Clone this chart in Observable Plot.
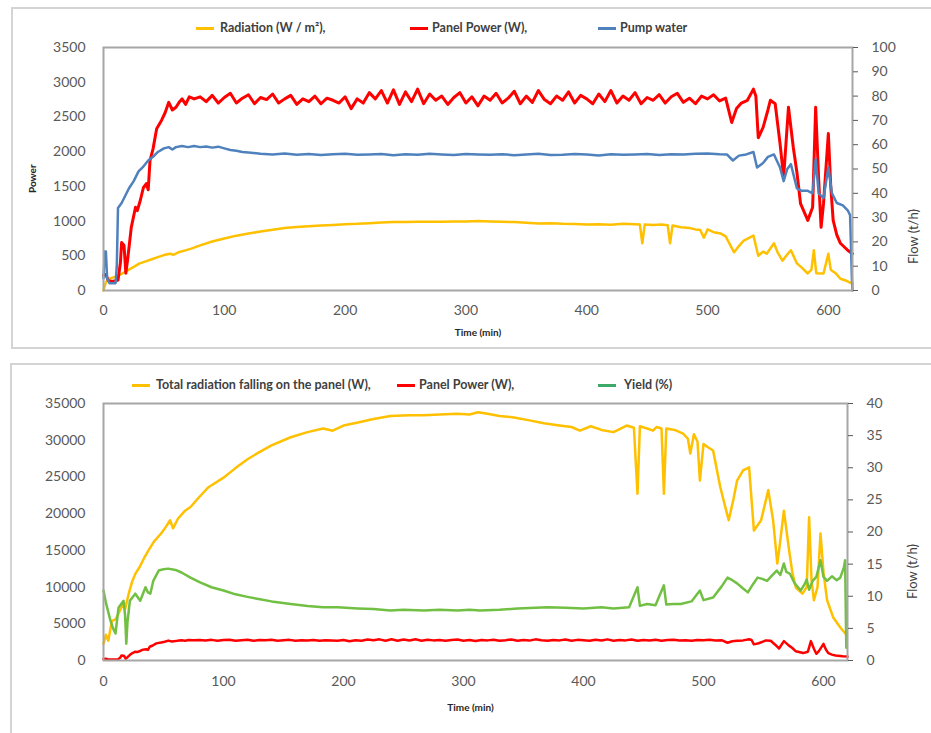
<!DOCTYPE html>
<html>
<head>
<meta charset="utf-8">
<script src="https://cdn.jsdelivr.net/npm/d3@7"></script>
<script src="https://cdn.jsdelivr.net/npm/@observablehq/plot@0.6"></script>
<style>
  html, body { margin: 0; padding: 0; background: #fff; }
  #page { position: relative; width: 931px; height: 733px; overflow: hidden; font-family: Lato, "Open Sans", sans-serif; }
  .panel { position: absolute; border: 2px solid #d4d4d4; box-sizing: border-box; }
  .chart { position: absolute; left: 0; }
  .leg { position: absolute; font-weight: bold; font-size: 12.5px; color: #404040; white-space: nowrap; line-height: 14px; }
  .sw { position: absolute; width: 18px; height: 3px; }
</style>
</head>
<body>
<div id="page">
  <div class="panel" style="left:11px; top:7px; width:940px; height:342px;"></div>
  <div class="panel" style="left:10px; top:363px; width:940px; height:400px;"></div>
  <div id="topChart" class="chart" style="top:0px;"></div>
  <div id="bottomChart" class="chart" style="top:350px;"></div>
  <div id="legTop"></div>
  <div id="legBottom"></div>
</div>
<script>
// ---------- Top panel data ----------
// Radiation (W/m²) — [time (min), value]
const radiation = [
  [0,0],[2,120],[5,170],[10,200],[15,240],[20,290],[25,340],[30,390],[35,420],[40,450],[45,480],[50,510],[55,530],[58,515],
  [62,550],[67,575],[72,600],[80,650],[90,705],[100,750],[110,790],[120,820],[130,850],[140,875],[150,900],[160,915],
  [170,925],[180,935],[190,945],[200,955],[210,960],[220,970],[230,978],[240,985],[250,988],[260,990],[270,992],[280,990],
  [290,993],[300,995],[310,1000],[320,995],[330,990],[340,985],[350,975],[360,965],[370,968],[380,960],[390,958],[400,950],
  [410,955],[420,948],[430,960],[440,955],[444,950],[446,680],[448,950],[455,945],[462,950],[467,940],[469,680],[471,935],
  [478,910],[485,900],[490,880],[494,870],[497,760],[500,880],[505,840],[511,820],[515,780],[522,550],[526,640],[530,720],
  [538,790],[542,500],[546,560],[549,530],[555,680],[558,550],[562,430],[566,520],[569,580],[574,390],[578,330],[583,245],
  [586,300],[588,580],[590,250],[596,245],[600,530],[602,300],[606,250],[610,170],[615,140],[618,115],[620,100]
];
// Panel Power (W)
const panelPower = [
  [0,220],[2,230],[4,140],[7,130],[10,140],[12,150],[14,400],[15,690],[17,650],[18.5,250],[20,450],[23,910],[26.5,1200],
  [28,1150],[30.5,1300],[33,1480],[35.5,1540],[37,1450],[38.5,1870],[41,2040],[44,2330],[48,2450],[51,2560],[54,2710],
  [57,2600],[60,2640],[63,2720],[65,2760],[68,2680],[71,2790],[75,2760],
  [80,2790],[85,2720],[90,2810],[95,2700],[100,2780],[105,2840],[110,2700],[115,2770],[120,2820],[125,2690],
  [130,2780],[135,2750],[140,2830],[145,2700],[150,2760],[155,2810],[160,2680],[165,2760],[170,2720],[175,2800],
  [180,2690],[185,2770],[190,2740],[195,2700],[200,2790],[205,2620],[210,2760],[215,2700],[220,2850],[225,2760],
  [230,2880],[235,2700],[240,2890],[245,2680],[250,2860],[255,2720],[260,2900],[265,2690],[270,2830],[275,2740],
  [280,2800],[285,2680],[290,2780],[295,2850],[300,2700],[305,2790],[310,2660],[315,2800],[320,2740],[325,2840],
  [330,2700],[335,2770],[340,2870],[345,2690],[350,2800],[355,2710],[360,2880],[365,2750],[370,2690],[375,2800],
  [380,2740],[385,2860],[390,2700],[395,2810],[400,2760],[405,2690],[410,2830],[415,2720],[420,2880],[425,2700],
  [430,2800],[435,2740],[440,2850],[445,2690],[450,2780],[455,2740],[460,2820],[465,2700],[470,2790],[475,2840],
  [480,2710],[485,2770],[490,2690],[495,2800],[500,2760],[505,2820],[510,2730],[515,2770],
  [520,2420],[524,2620],[528,2700],[533,2740],[538,2900],[540,2800],[542,2200],[546,2350],[550,2600],[552,2740],
  [556,2690],[560,2120],[563,1630],[567,2640],[571,2060],[574,1700],[577,1250],[583,1010],[587,1200],[589.5,2640],
  [592,1600],[594,910],[596,1250],[600,2260],[602,1500],[604,1010],[607,800],[610,680],[616,580],[620,530]
];
// Pump water flow (t/h), right axis
const pumpFlow = [
  [0,5],[1,16],[2,16],[3,5],[5,3],[8,3],[10,3],[11,10],[12,34],[15,36],[18,39],[21,42],[25,45],[29,49],[33,51],
  [37,53.5],[41,55],[45,57],[50,58.5],[54,59],[57,58],[60,59],[65,59.5],[70,59],[75,59.5],[80,59],[85,59.3],[90,58.8],
  [95,59.2],[100,58.5],[105,57.8],[110,57.5],[115,57],[120,56.8],
  [130,56.3],[140,56.0],[150,56.4],[160,55.9],[170,56.2],[180,55.8],[190,56.1],[200,56.3],[210,55.9],[220,56.0],
  [230,56.2],[240,55.7],[250,56.1],[260,55.9],[270,56.3],[280,56.0],[290,55.8],[300,56.2],[310,56.0],[320,55.9],
  [330,56.1],[340,55.7],[350,56.0],[360,56.3],[370,55.8],[380,55.9],[390,56.2],[400,56.0],[410,55.6],[420,56.1],
  [430,55.9],[440,56.0],[450,56.2],[460,55.8],[470,56.1],[480,56.0],[490,56.3],[500,56.4],[510,56.1],
  [516,56],[521,53.5],[526,55.5],[532,56],[538,57],[541,50.6],[546,52.5],[550,55],[555,56],[560,50.6],[563,45],
  [566,50],[569,52],[574,42],[578,41],[583,41],[587,40],[589.5,54],[592,40],[596,38],[600,50.6],[603,40],[607,36],
  [612,35],[616,33],[618,31],[619.5,5],[620,0]
];

// ---------- Bottom panel data ----------
// Total radiation falling on the panel (W)
const totalRadiation = [
  [0,2300],[2,3500],[4,2700],[7,5400],[10,5600],[12.5,6400],[16,7600],[18,7000],[21,9100],[24,10800],[26.5,11800],
  [30,12700],[34,14000],[37.5,15000],[42,16200],[48,17300],[52,18200],[55.5,19100],[58,18000],[62,19300],[68,20400],
  [72.5,20900],[80,22300],[87.5,23600],[100,24900],[110,26200],[120,27400],[128,28200],[140,29300],[156,30400],
  [170,31100],[183,31600],[191,31300],[200,32000],[212,32400],[225,32900],[239,33300],[255,33400],[267,33400],
  [280,33500],[295,33600],[305,33500],[312,33800],[320,33600],[330,33300],[342,33100],[355,32700],[367,32300],
  [380,32000],[390,31800],[397,31300],[406,31900],[415,31400],[425,31100],[436,32000],[442,31700],[445,22700],
  [447,31900],[453,31600],[458,31300],[461,31800],[465,31600],[467,22700],[469,31600],[476,31400],[483,30900],
  [487,30200],[489,28200],[492,30800],[495,29800],[497,24500],[500,29500],[504,29000],[508,28600],[514,23600],
  [518,21000],[521,19100],[525,22000],[528,24500],[533,25900],[538,26300],[542,17700],[548,19100],[554,23200],
  [558,19100],[561.5,13200],[563,15000],[567,20400],[571,15400],[574,12000],[577,9900],[582.5,9100],[586,10000],
  [588,19500],[590,11000],[592,8200],[595,10000],[597.5,17300],[600,12000],[603,8200],[608,5900],[614,4500],[618,3700]
];
// Yield (%), right axis
const yieldPct = [
  [0,10.9],[2,9],[5.8,6.2],[8,5],[10,4.2],[12.5,8.2],[16.7,9.3],[18,7],[19,2.6],[20,6],[22,9.3],[26.5,10.4],[30.6,9.3],
  [35,11.4],[37,10.6],[39,10.4],[41.5,12.4],[46,14.0],[50,14.2],[54,14.3],[60,14.1],[65,13.7],[72.5,12.9],[80,12.2],
  [90,11.4],[100,10.9],[110,10.3],[120,9.9],[128,9.6],[140,9.2],[156,8.8],[170,8.5],[183,8.3],[195,8.3],[212,8.1],
  [225,8.0],[239,7.8],[250,7.9],[267,7.8],[280,7.9],[295,7.8],[305,7.9],[314,7.8],[330,7.9],[345,8.1],[360,8.2],
  [370,8.3],[385,8.2],[400,8.1],[415,8.3],[425,8.1],[438,8.3],[445,11.4],[447,8.5],[453,8.8],[460,8.6],[467,11.7],
  [469,8.7],[475,8.8],[481,8.8],[490,9.2],[497,10.9],[500,9.4],[508,9.8],[515,11.5],[520,12.9],[524,12.5],[528,12.0],
  [533,11.2],[537,10.6],[541,11.8],[545,12.9],[549,12.7],[553,12.4],[557,13.2],[561,14.0],[564,13.3],[567,15.1],
  [569,13.8],[572,13.5],[576,12.0],[581,10.9],[584,11.8],[586,12.6],[588,11.0],[591,12.4],[594,13.0],[597.5,15.6],
  [600,13.0],[603,12.4],[607,13.1],[611,12.5],[614,12.9],[617,14.5],[618,15.6],[619,2]
];

// Tick labels
const timeTicks = [0, 100, 200, 300, 400, 500, 600];
const topLeftTicks = [0, 500, 1000, 1500, 2000, 2500, 3000, 3500];
const topRightTicks = [0, 10, 20, 30, 40, 50, 60, 70, 80, 90, 100];
const botLeftTicks = [0, 5000, 10000, 15000, 20000, 25000, 30000, 35000];
const botRightTicks = [0, 5, 10, 15, 20, 25, 30, 35, 40];

// Legend entries
const topLegend = [
  {label: "Radiation (W / m²),", color: "#FFC000", sw: 196, tx: 220},
  {label: "Panel Power (W),", color: "#FF0000", sw: 410, tx: 432},
  {label: "Pump water", color: "#4F81BD", sw: 598, tx: 620}
];
const bottomLegend = [
  {label: "Total radiation falling on the panel (W),", color: "#FFC000", sw: 132, tx: 156},
  {label: "Panel Power (W),", color: "#FF0000", sw: 397, tx: 419},
  {label: "Yield (%)", color: "#3DAA6A", sw: 598, tx: 624}
];

const rows = arr => arr.map(([t, v]) => ({t, v}));

const YEL = "#FFC000", RED = "#FF0000", BLUE = "#4F81BD", GREEN = "#72C043";
const baseStyle = {fontFamily: "Lato, 'Open Sans', sans-serif", fontSize: "14px", color: "#595959", background: "transparent", overflow: "visible"};

// Top chart: left axis 0–3500, right axis 0–100 (scale factor 35)
const kTop = 3500 / 100;
const topPlot = Plot.plot({
  width: 931, height: 345,
  marginTop: 47, marginBottom: 55, marginLeft: 103, marginRight: 79,
  x: {domain: [0, 620]},
  y: {domain: [0, 3500]},
  style: baseStyle,
  marks: [
    Plot.line(rows(radiation), {x: "t", y: "v", stroke: YEL, strokeWidth: 2.5}),
    Plot.line(rows(panelPower), {x: "t", y: "v", stroke: RED, strokeWidth: 3}),
    Plot.line(rows(pumpFlow), {x: "t", y: d => d.v * kTop, stroke: BLUE, strokeWidth: 2.5}),
    Plot.frame({stroke: "#a6a6a6", strokeWidth: 2}),
    Plot.axisX({ticks: timeTicks, tickSize: 0, tickPadding: 15, tickFormat: d => String(d), label: null}),
    Plot.axisY({ticks: topLeftTicks, tickSize: 0, tickPadding: 18, tickFormat: d => String(d), label: null}),
    Plot.axisY({anchor: "right", ticks: topRightTicks.map(d => d * kTop), tickSize: 5, tickPadding: 14, tickFormat: d => String(Math.round(d / kTop)), label: null}),
    Plot.text(["Time (min)"], {frameAnchor: "bottom", dy: 45, fontSize: 10, fontWeight: "bold", fill: "#262626"}),
    Plot.text(["Power"], {frameAnchor: "left", dx: -71, dy: 24, rotate: -90, fontSize: 10, fontWeight: "bold", fill: "#262626"}),
    Plot.text(["Flow (t/h)"], {frameAnchor: "right", dx: 61, dy: 40, rotate: -90, fontSize: 13, fill: "#404040"})
  ]
});
document.getElementById("topChart").appendChild(topPlot);

// Bottom chart: left axis 0–35000, right axis 0–40 (scale factor 875)
const kBot = 35000 / 40;
const bottomPlot = Plot.plot({
  width: 931, height: 383,
  marginTop: 53, marginBottom: 73, marginLeft: 103, marginRight: 84,
  x: {domain: [0, 620]},
  y: {domain: [0, 35000]},
  style: baseStyle,
  marks: [
    Plot.line(rows(totalRadiation), {x: "t", y: "v", stroke: YEL, strokeWidth: 2.5}),
    Plot.line(rows(panelPower), {x: "t", y: "v", stroke: RED, strokeWidth: 2.5}),
    Plot.line(rows(yieldPct), {x: "t", y: d => d.v * kBot, stroke: GREEN, strokeWidth: 2.5}),
    Plot.frame({stroke: "#a6a6a6", strokeWidth: 2}),
    Plot.axisX({ticks: timeTicks, tickSize: 0, tickPadding: 16, tickFormat: d => String(d), label: null}),
    Plot.axisY({ticks: botLeftTicks, tickSize: 0, tickPadding: 18, tickFormat: d => String(d), label: null}),
    Plot.axisY({anchor: "right", ticks: botRightTicks.map(d => d * kBot), tickSize: 5, tickPadding: 14, tickFormat: d => String(Math.round(d / kBot)), label: null}),
    Plot.text(["Time (min)"], {frameAnchor: "bottom", dx: -5, dy: 50, fontSize: 10, fontWeight: "bold", fill: "#262626"}),
    Plot.text(["Flow (t/h)"], {frameAnchor: "right", dx: 65, dy: 12, rotate: -90, fontSize: 13, fill: "#404040"})
  ]
});
document.getElementById("bottomChart").appendChild(bottomPlot);

// Legends
function legend(id, items, y) {
  const host = document.getElementById(id);
  for (const it of items) {
    const sw = document.createElement("div");
    sw.className = "sw";
    sw.style.left = it.sw + "px";
    sw.style.top = (y - 1) + "px";
    sw.style.background = it.color;
    host.appendChild(sw);
    const tx = document.createElement("div");
    tx.className = "leg";
    tx.style.left = it.tx + "px";
    tx.style.top = (y - 7) + "px";
    tx.textContent = it.label;
    host.appendChild(tx);
  }
}
legend("legTop", topLegend, 28);
legend("legBottom", bottomLegend, 385);
</script>
</body>
</html>
